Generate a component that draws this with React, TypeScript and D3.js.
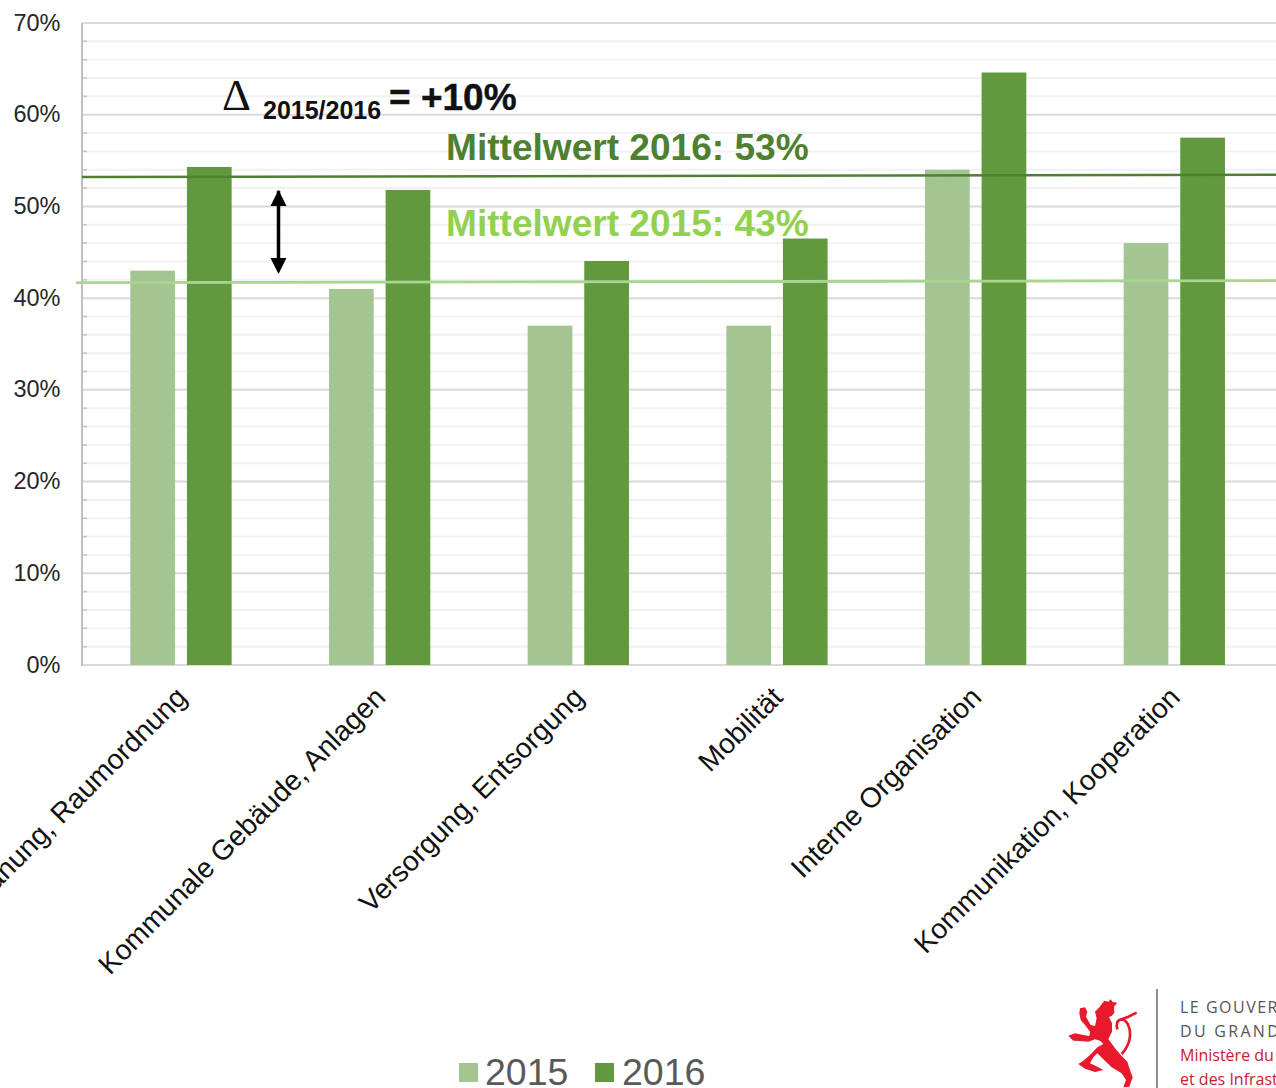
import React from "react";
import * as d3 from "d3";

const categories = [
  "Entwicklungsplanung, Raumordnung",
  "Kommunale Gebäude, Anlagen",
  "Versorgung, Entsorgung",
  "Mobilität",
  "Interne Organisation",
  "Kommunikation, Kooperation",
];
const values2015 = [43, 41, 37, 37, 54, 46];
const values2016 = [54.3, 51.8, 44.05, 46.5, 64.6, 57.5];
const majorTicks = [0, 10, 20, 30, 40, 50, 60, 70];
const minorTicks = [2, 4, 6, 8, 12, 14, 16, 18, 22, 24, 26, 28, 32, 34, 36, 38, 42, 44, 46, 48, 52, 54, 56, 58, 62, 64, 66, 68];
const mean2016 = [53.2, 53.45];
const mean2015 = [41.7, 41.9];
const arrowRange = [43, 51.6];

const FONT = "'Liberation Sans', Arial, sans-serif";
const C15 = "#a3c592";
const C16 = "#62993e";
const LION = "M193 92L205 95 212 88 218 96 232 98 222 110 223 128 215 138 207 141 216 160 216 185 205 207 225 235 245 258 262 275 270 300 278 322 268 350 250 352 258 330 245 310 215 292 190 268 172 250 160 262 150 280 172 290 190 300 165 306 135 296 115 282 130 272 150 255 172 232 190 222 180 212 165 208 145 215 120 213 100 212 85 197 105 190 130 195 148 198 150 185 135 165 122 150 118 130 120 115 135 112 142 125 138 140 152 165 165 168 170 145 165 125 178 112Z";

export default function App() {
  const y = d3.scaleLinear().domain([0, 70]).range([665, 23]);
  const x = d3.scaleBand<string>().domain(categories).range([82, 1274]);
  const bw = x.bandwidth();
  const lineY = d3.line<number>().x((_, i) => (i === 0 ? 82 : 1276)).y((d) => y(d));
  const lineY15 = d3.line<number>().x((_, i) => (i === 0 ? 76 : 1276)).y((d) => y(d));
  return (
    <svg width={1276} height={1088} viewBox="0 0 1276 1088" style={{ position: "absolute", left: 0, top: 0, background: "#fff" }} fontFamily={FONT}>
      {minorTicks.map((t) => (
        <g key={t}>
          <line x1={82} x2={1276} y1={y(t)} y2={y(t)} stroke="#f1f1f1" strokeWidth={2} />
          <line x1={82} x2={87} y1={y(t)} y2={y(t)} stroke="#c4c4c4" strokeWidth={1.5} />
        </g>
      ))}
      {majorTicks.map((t) => (
        <g key={t}>
          <line x1={82} x2={1276} y1={y(t)} y2={y(t)} stroke="#dadada" strokeWidth={2} />
          <text x={60.5} y={y(t) + 7.5} textAnchor="end" fontSize={23.5} fill="#262626">{t}%</text>
        </g>
      ))}
      <line x1={82} x2={82} y1={y(70)} y2={y(0) + 1} stroke="#c0c0c0" strokeWidth={2} />
      {categories.map((c, i) => {
        const cx = x(c)! + bw / 2;
        return (
          <g key={c}>
            <rect x={cx - 51} y={y(values2015[i])} width={44.7} height={y(0) - y(values2015[i])} fill={C15} />
            <rect x={cx + 5.6} y={y(values2016[i])} width={44.7} height={y(0) - y(values2016[i])} fill={C16} />
            <text transform={`translate(${cx + 7},${y(0) + 34}) rotate(-45)`} textAnchor="end" fontSize={28.2} fill="#111">{c}</text>
          </g>
        );
      })}
      <path d={lineY(mean2016)!} stroke="#4f7f31" strokeWidth={2.5} fill="none" />
      <path d={lineY15(mean2015)!} stroke="#a9d590" strokeWidth={2.8} fill="none" />

      <line x1={278.5} x2={278.5} y1={y(arrowRange[1]) - 1} y2={y(arrowRange[0]) - 6} stroke="#000" strokeWidth={3.5} />
      <path d="M278.5 190L286.5 206H270.5Z" fill="#000" />
      <path d="M278.5 274L286.5 258H270.5Z" fill="#000" />

      <text x={222} y={110} fontSize={45} fontFamily="'Liberation Serif', serif" fill="#111">Δ</text>
      <text x={263} y={119} fontSize={25} fontWeight={700} fill="#111">2015/2016</text>
      <text x={389} y={110} fontSize={37} fontWeight={700} fill="#111" stroke="#111" strokeWidth={0.4}>= +10%</text>
      <text x={446} y={160} fontSize={37.1} fontWeight={700} fill="#4f7f31">Mittelwert 2016: 53%</text>
      <text x={446} y={236} fontSize={37.1} fontWeight={700} fill="#92d050">Mittelwert 2015: 43%</text>

      <rect x={459} y={1063} width={19} height={19} fill={C15} />
      <text x={485} y={1085} fontSize={37.5} fill="#595959">2015</text>
      <rect x={595} y={1063} width={19} height={19} fill={C16} />
      <text x={622} y={1085} fontSize={37.5} fill="#595959">2016</text>

      <g transform="translate(1040,970) scale(0.3333)">
        <path d={LION} fill="#e8192c" />
        <path d="M232 178C224 146 250 140 262 160C278 190 270 225 245 252" fill="none" stroke="#e8192c" strokeWidth={8} />
        <path d="M240 150L265 140L290 128" fill="none" stroke="#e8192c" strokeWidth={8} />
      </g>
      <line x1={1157} x2={1157} y1={989} y2={1088} stroke="#6b6b6b" strokeWidth={1.5} />
      <g fontFamily="'Open Sans', sans-serif" fontSize={16}>
        <text x={1180} y={1013} fill="#555" letterSpacing={1.5}>LE GOUVERNEMENT</text>
        <text x={1180} y={1037} fill="#555" letterSpacing={2.3}>DU GRAND-DUCHÉ</text>
        <text x={1180} y={1061} fill="#c8202f">Ministère du Développement</text>
        <text x={1180} y={1085} fill="#c8202f">et des Infrastructures</text>
      </g>
    </svg>
  );
}
